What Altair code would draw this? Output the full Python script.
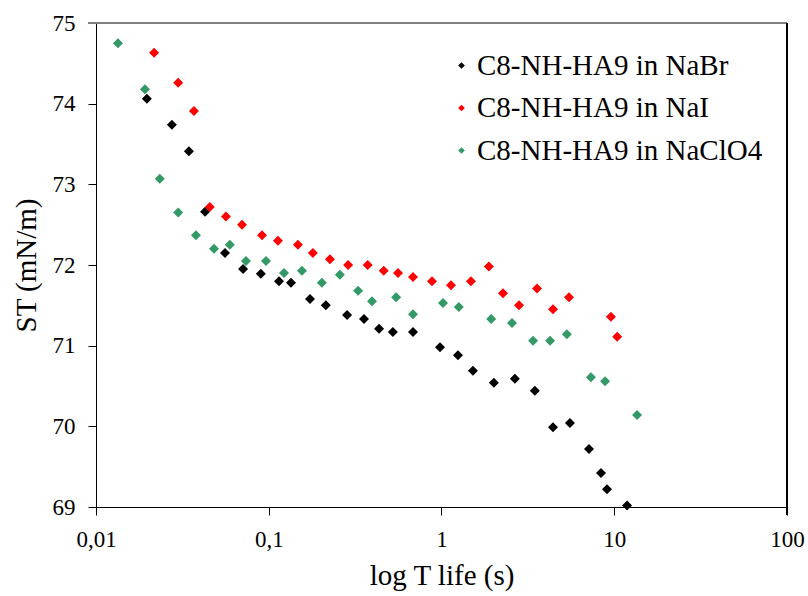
import altair as alt
import pandas as pd

series_names = ["C8-NH-HA9 in NaBr", "C8-NH-HA9 in NaI", "C8-NH-HA9 in NaClO4"]
series_colors = ["#000000", "#FF0000", "#339966"]

nabr_t = [0.0197, 0.0275, 0.0345, 0.0428, 0.0558, 0.071, 0.090, 0.1146, 0.1345, 0.1733,
          0.214, 0.284, 0.356, 0.435, 0.523, 0.684, 0.98, 1.245, 1.52, 2.01, 2.66, 3.47,
          4.42, 5.54, 7.14, 8.38, 9.08, 11.86]
nabr_st = [74.06, 73.74, 73.41, 72.66, 72.15, 71.95, 71.89, 71.80, 71.78, 71.58, 71.50,
           71.38, 71.33, 71.21, 71.17, 71.17, 70.98, 70.88, 70.69, 70.54, 70.59, 70.44,
           69.99, 70.04, 69.72, 69.42, 69.22, 69.02]

nai_t = [0.0217, 0.0299, 0.0369, 0.0456, 0.0565, 0.070, 0.0914, 0.113, 0.1476, 0.180,
         0.226, 0.288, 0.374, 0.463, 0.56, 0.684, 0.881, 1.135, 1.48, 1.88, 2.27, 2.81,
         3.57, 4.42, 5.47, 9.57, 10.4]
nai_st = [74.63, 74.26, 73.91, 72.72, 72.60, 72.50, 72.37, 72.30, 72.25, 72.15, 72.07,
          72.00, 72.00, 71.93, 71.90, 71.85, 71.80, 71.75, 71.80, 71.98, 71.65, 71.50,
          71.71, 71.45, 71.60, 71.36, 71.11]

naclo4_t = [0.0134, 0.0192, 0.0234, 0.0299, 0.0379, 0.0482, 0.0595, 0.0738, 0.0964, 0.1225,
            0.1557, 0.203, 0.258, 0.329, 0.396, 0.546, 0.684, 1.02, 1.26, 1.94, 2.56, 3.39,
            4.25, 5.32, 7.33, 8.85, 13.55]
naclo4_st = [74.75, 74.18, 73.07, 72.65, 72.37, 72.20, 72.25, 72.05, 72.05, 71.90, 71.93,
             71.78, 71.88, 71.68, 71.55, 71.60, 71.39, 71.53, 71.48, 71.33, 71.28, 71.06,
             71.06, 71.14, 70.61, 70.56, 70.14]

x_ticks = [0.01, 0.1, 1, 10, 100]
y_ticks = [69, 70, 71, 72, 73, 74, 75]

frames = []
for name, t, st in zip(series_names, [nabr_t, nai_t, naclo4_t], [nabr_st, nai_st, naclo4_st]):
    frames.append(pd.DataFrame({"t": t, "st": st, "series": name}))
df = pd.concat(frames, ignore_index=True)

W, H = 691, 484
FONT = "Liberation Serif"

points = alt.Chart(df).mark_point(shape="diamond", filled=True, size=100, opacity=1).encode(
    x=alt.X("t:Q",
            scale=alt.Scale(type="log", domain=[0.01, 100], nice=False),
            axis=alt.Axis(values=x_ticks, title="log T life (s)", grid=False,
                          labelExpr="replace(format(datum.value, ''), '.', ',')",
                          tickSize=8, labelPadding=13, titlePadding=10,
                          labelFontSize=23, titleFontSize=29,
                          labelColor="black", titleColor="black", titleFontWeight="normal",
                          domainColor="black", tickColor="black", labelFlush=False)),
    y=alt.Y("st:Q",
            scale=alt.Scale(domain=[69, 75], nice=False, zero=False),
            axis=alt.Axis(values=y_ticks, title="ST (mN/m)", grid=False,
                          tickSize=8, labelPadding=13, titlePadding=11,
                          labelFontSize=23, titleFontSize=29,
                          labelColor="black", titleColor="black", titleFontWeight="normal",
                          domainColor="black", tickColor="black")),
    color=alt.Color("series:N",
                    scale=alt.Scale(domain=series_names, range=series_colors),
                    legend=alt.Legend(title=None, orient="none", legendX=351, legendY=28,
                                      labelFontSize=29, labelColor="black",
                                      symbolType="diamond", symbolSize=45, symbolStrokeWidth=0,
                                      labelOffset=1, rowPadding=12.5, labelLimit=400)),
)

top_rule = alt.Chart(df).mark_rule(color="#808080", strokeWidth=1).encode(
    x=alt.value(-8), x2=alt.value(W), y=alt.value(0))
right_rule = alt.Chart(df).mark_rule(color="black", strokeWidth=1).encode(
    x=alt.value(W), y=alt.value(0), y2=alt.value(H + 8))

chart = alt.layer(top_rule, right_rule, points).properties(
    width=W, height=H,
    autosize=alt.AutoSizeParams(type="none"),
    padding={"left": 96, "top": 23, "right": 21, "bottom": 89},
).configure_view(stroke=None).configure(
    background="white", font=FONT
).configure_axis(labelFont=FONT, titleFont=FONT).configure_legend(labelFont=FONT)

chart.save("out.html", embed_options={"renderer": "svg", "actions": False})
